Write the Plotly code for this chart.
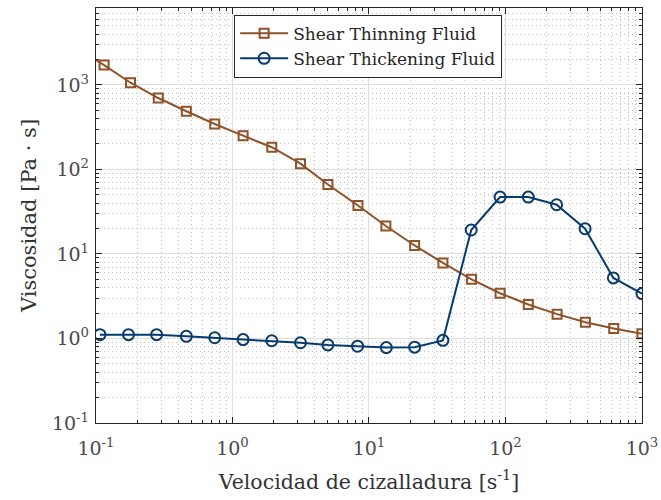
import plotly.graph_objects as go

# Shear rate [1/s] and viscosity [Pa·s] for both fluids
x_thinning = [0.0711, 0.1146, 0.179, 0.286, 0.459, 0.741, 1.196, 1.94, 3.15, 5.0,
              8.3, 13.3, 21.6, 34.8, 56.4, 91.3, 147, 239, 385, 621, 1000]
y_thinning = [2760, 1718, 1062, 700, 488, 345, 251, 183, 117, 66.4,
              37.5, 21.4, 12.6, 7.83, 5.01, 3.43, 2.52, 1.94, 1.56, 1.31, 1.14]

x_thickening = [0.107, 0.173, 0.278, 0.459, 0.741, 1.196, 1.94, 3.15, 5.0, 8.25,
                13.4, 21.6, 34.8, 56.1, 91.3, 147, 237, 383, 617, 1000]
y_thickening = [1.11, 1.11, 1.11, 1.06, 1.02, 0.97, 0.94, 0.89, 0.84, 0.81,
                0.78, 0.79, 0.95, 19.2, 47.1, 47.1, 38.2, 19.9, 5.21, 3.40]

series_names = ["Shear Thinning Fluid", "Shear Thickening Fluid"]
x_title = "Velocidad de cizalladura [s<sup>-1</sup>]"
y_title = "Viscosidad [Pa · s]"

x_decades = [-1, 0, 1, 2, 3]
y_decades = [-1, 0, 1, 2, 3]

BROWN = "#8F5229"
BLUE = "#073B6D"
FONT = "DejaVu Serif"
AXIS_C = "#262626"


def decade_ticks(exps):
    vals = [10.0 ** e for e in exps]
    text = ["10<sup>%d</sup>" % e for e in exps]
    return vals, text


def minor_ticks(lo, hi):
    return [m * 10.0 ** e for e in range(lo, hi + 1) for m in range(2, 10)]


fig = go.Figure()
fig.add_trace(go.Scatter(
    x=x_thinning, y=y_thinning, name=series_names[0], mode="lines+markers",
    line=dict(color=BROWN, width=2),
    marker=dict(symbol="square-open", size=9, color=BROWN, line=dict(width=2, color=BROWN)),
))
fig.add_trace(go.Scatter(
    x=x_thickening, y=y_thickening, name=series_names[1], mode="lines+markers",
    line=dict(color=BLUE, width=2),
    marker=dict(symbol="circle-open", size=11, color=BLUE, line=dict(width=2, color=BLUE)),
))


def axis_style(exps, lo, hi):
    vals, text = decade_ticks(exps)
    return dict(
        type="log", tickmode="array", tickvals=vals, ticktext=text,
        automargin=False,
        showline=True, linecolor=AXIS_C, linewidth=1.3, mirror="allticks",
        ticks="inside", ticklen=6, tickcolor=AXIS_C, tickwidth=1,
        showgrid=True, gridcolor="#DEDEDE", gridwidth=1,
        zeroline=False,
        tickfont=dict(family=FONT, size=19, color="#4A4A4A"),
        minor=dict(tickmode="array", tickvals=minor_ticks(lo, hi),
                   ticks="inside", ticklen=3, tickcolor=AXIS_C,
                   showgrid=True, gridcolor="#C4C4C4", griddash="1px,3px", gridwidth=1),
    )


fig.update_xaxes(range=[-1, 3.0002], ticklabelstandoff=8,
                 title=dict(text=x_title, standoff=16,
                            font=dict(family=FONT, size=20.5, color="#333333")),
                 **axis_style(x_decades, -1, 2))
fig.update_yaxes(range=[-1, 3.91], ticklabelstandoff=2,
                 title=dict(text=y_title, standoff=9,
                            font=dict(family=FONT, size=21, color="#333333")),
                 **axis_style(y_decades, -1, 3))

fig.update_layout(
    width=661, height=500,
    margin=dict(l=96, r=19, t=8, b=77),
    plot_bgcolor="white", paper_bgcolor="white",
    font=dict(family=FONT, color="#333333"),
    legend=dict(x=0.253, y=0.984, xanchor="left", yanchor="top",
                bgcolor="white", bordercolor=AXIS_C, borderwidth=1,
                font=dict(family=FONT, size=17, color="#262626"),
                tracegroupgap=0, itemsizing="trace", itemwidth=48),
    showlegend=True,
)

fig.write_html("out.html")
